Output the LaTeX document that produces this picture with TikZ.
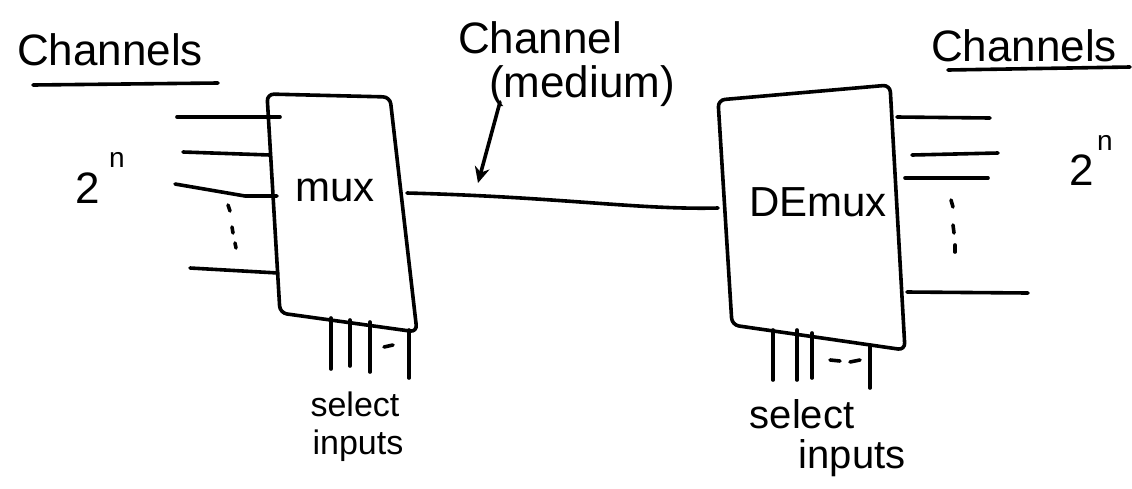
\documentclass[tikz,border=0pt]{standalone}
\usepackage{fontspec}
\setmainfont{Liberation Sans}
\usetikzlibrary{arrows.meta}
\begin{document}
\begin{tikzpicture}[x=1pt,y=-1pt,
  pen/.style={line width=3.6pt,line cap=round,line join=round},
  boxpen/.style={pen,rounded corners=7pt},
  lbl/.style={inner sep=0pt,anchor=center},
  big/.style={lbl,font=\fontsize{44}{44}\selectfont},
  mid/.style={lbl,font=\fontsize{42}{42}\selectfont},
  sel/.style={lbl,font=\fontsize{34}{34}\selectfont},
  selr/.style={lbl,font=\fontsize{40}{40}\selectfont},
  small/.style={lbl,font=\fontsize{28}{28}\selectfont},
]
\useasboundingbox (0,0) rectangle (1132,488);

% ---------- multiplexer block ----------
\draw[boxpen] (280,313) -- (267,94) -- (390,97) -- (417,332) -- cycle;
\node[mid] (mux) at (335,190) {mux};
\coordinate (muxout) at (407,193);

% input channels
\coordinate (i1) at (177,117); \coordinate (i1e) at (280,117);
\coordinate (i2) at (183,152); \coordinate (i2e) at (270,155);
\coordinate (i3) at (175,184); \coordinate (i3m) at (245,196); \coordinate (i3e) at (277,196);
\coordinate (i4) at (190,268); \coordinate (i4e) at (278,273);
\draw[pen] (i1) -- (i1e);
\draw[pen] (i2) -- (i2e);
\draw[pen] (i3) -- (i3m) -- (i3e);
\draw[pen] (i4) -- (i4e);
% vertical ellipsis between the inputs
\draw[pen] (228,205) -- (230,211);
\draw[pen] (232,227) -- (233,233);
\draw[pen] (235,243) -- (236,248);

\node[big] (ln) at (88,188) {2};
\node[small] (lsup) at (117,160) {n};

% select lines of the multiplexer
\foreach \x/\yt/\yb in {331/318/369, 350/320/366, 370/322/372, 409/330/378}
  \draw[pen] (\x,\yt) -- (\x,\yb);
\draw[pen] (384,347) -- (393,345);
\node[sel] (msel) at (355,404) {select};
\node[sel] (minp) at (358,446) {inputs};

% ---------- channel medium ----------
\draw[pen] (muxout) .. controls (560,197) and (640,210) .. (718,208);
\coordinate (medtip) at (478,183);
\node[big] (chan) at (540,38) {Channel};
\node[big] (med) at (582,86) {(medium)};
\draw[pen,-{Stealth[length=16pt,width=15pt]}] (500,102) -- (medtip);

% ---------- demultiplexer block ----------
\draw[boxpen] (732,325) -- (718,100) -- (890,85) -- (905,350) -- cycle;
\node[mid] (demux) at (818,202) {DEmux};

% output channels
\coordinate (o1) at (897,117); \coordinate (o1e) at (990,118);
\coordinate (o2) at (912,155); \coordinate (o2e) at (998,153);
\coordinate (o3) at (905,178); \coordinate (o3e) at (988,178);
\coordinate (o4) at (907,292); \coordinate (o4e) at (1028,293);
\draw[pen] (o1) -- (o1e);
\draw[pen] (o2) -- (o2e);
\draw[pen] (o3) -- (o3e);
\draw[pen] (o4) -- (o4e);
% vertical ellipsis between the outputs
\draw[pen] (951,200) -- (953,207);
\draw[pen] (953,225) -- (954,233);
\draw[pen] (955,245) -- (955,252);

\node[big] (rn) at (1082,170) {2};
\node[small] (rsup) at (1105,143) {n};

% select lines of the demultiplexer
\foreach \x/\yt/\yb in {773/330/380, 797/330/380, 812/333/378, 870/345/388}
  \draw[pen] (\x,\yt) -- (\x,\yb);
\draw[pen] (830,360) -- (840,361);
\draw[pen] (850,362) -- (860,360);
\node[selr] (dsel) at (802,414) {select};
\node[selr] (dinp) at (852,458) {inputs};

% ---------- headings ----------
\node[big] (lch) at (110,50) {Channels};
\draw[pen] (33,85) -- (218,83);
\node[big] (rch) at (1024,46) {Channels};
\draw[pen] (948,70) -- (1130,67);
\end{tikzpicture}
\end{document}
